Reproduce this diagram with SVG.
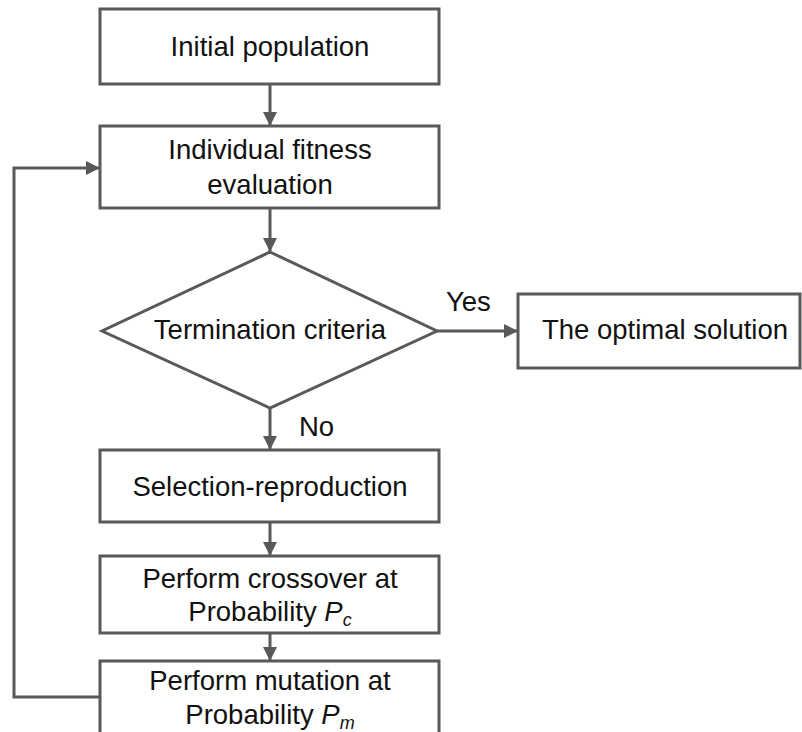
<svg xmlns="http://www.w3.org/2000/svg" width="802" height="732" viewBox="0 0 802 732">
  <style>
    .box { fill: #ffffff; stroke: #595959; stroke-width: 3; }
    .line { fill: none; stroke: #595959; stroke-width: 3; }
    .txt { font-family: "Liberation Sans", Arial, sans-serif; font-size: 27.5px; fill: #111111; text-anchor: middle; }
    .lbl { font-family: "Liberation Sans", Arial, sans-serif; font-size: 27.5px; fill: #111111; }
    .sub { font-style: italic; font-size: 18px; }
  </style>
  <defs>
    <marker id="arrow" viewBox="0 0 14 14" refX="13" refY="7" markerWidth="14" markerHeight="14" markerUnits="userSpaceOnUse" orient="auto">
      <path d="M0,0 L14,7 L0,14 Z" fill="#595959"/>
    </marker>
  </defs>
  <rect width="802" height="732" fill="#ffffff"/>

  <g id="connectors">
    <line class="line" x1="270" y1="84" x2="270" y2="125" marker-end="url(#arrow)"/>
    <line class="line" x1="270" y1="208" x2="270" y2="251" marker-end="url(#arrow)"/>
    <line class="line" x1="437" y1="331" x2="517" y2="331" marker-end="url(#arrow)"/>
    <line class="line" x1="270" y1="408" x2="270" y2="449" marker-end="url(#arrow)"/>
    <line class="line" x1="270" y1="522" x2="270" y2="555" marker-end="url(#arrow)"/>
    <line class="line" x1="270" y1="633" x2="270" y2="660" marker-end="url(#arrow)"/>
    <polyline class="line" points="100,697 14,697 14,168 99,168" marker-end="url(#arrow)"/>
    <text class="lbl" x="446" y="311">Yes</text>
    <text class="lbl" x="299" y="436">No</text>
  </g>

  <g id="initial-population">
    <rect class="box" x="100" y="9" width="339" height="75"/>
    <text class="txt" x="270" y="56">Initial population</text>
  </g>

  <g id="fitness-evaluation">
    <rect class="box" x="100" y="126" width="339" height="82"/>
    <text class="txt" x="270" y="159">Individual fitness</text>
    <text class="txt" x="270" y="194">evaluation</text>
  </g>

  <g id="termination-criteria">
    <polygon class="box" points="270,252 437,331 270,408 102,331"/>
    <text class="txt" x="270" y="339">Termination criteria</text>
  </g>

  <g id="optimal-solution">
    <rect class="box" x="518" y="294" width="282" height="74"/>
    <text class="txt" x="665" y="339">The optimal solution</text>
  </g>

  <g id="selection-reproduction">
    <rect class="box" x="100" y="450" width="339" height="72"/>
    <text class="txt" x="270" y="496">Selection-reproduction</text>
  </g>

  <g id="crossover">
    <rect class="box" x="100" y="556" width="339" height="77"/>
    <text class="txt" x="270" y="588">Perform crossover at</text>
    <text class="txt" x="270" y="621">Probability <tspan font-style="italic">P</tspan><tspan class="sub" dy="5">c</tspan></text>
  </g>

  <g id="mutation">
    <rect class="box" x="100" y="661" width="339" height="90"/>
    <text class="txt" x="270" y="690">Perform mutation at</text>
    <text class="txt" x="270" y="724">Probability <tspan font-style="italic">P</tspan><tspan class="sub" dy="5">m</tspan></text>
  </g>
</svg>
